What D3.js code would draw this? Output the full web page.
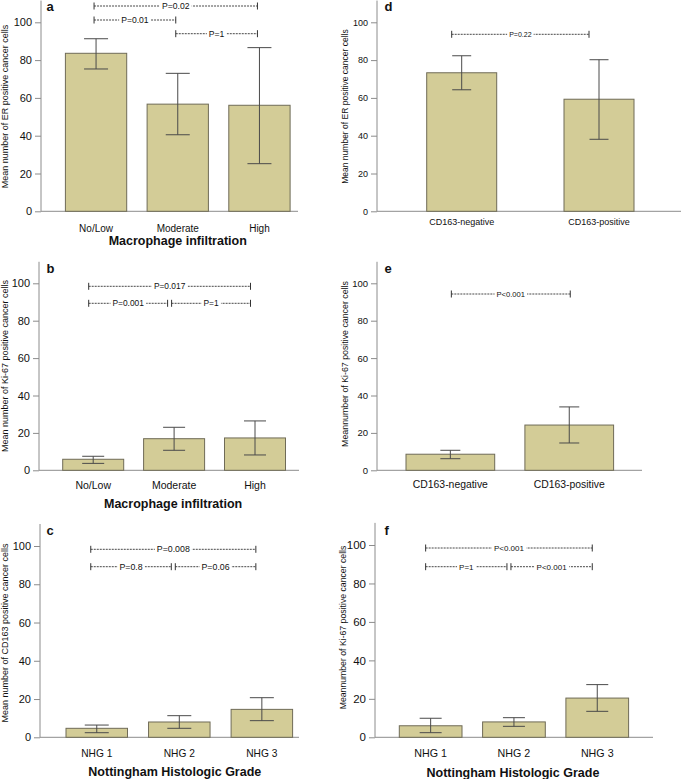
<!DOCTYPE html>
<html><head><meta charset="utf-8">
<script src="https://cdn.jsdelivr.net/npm/d3@7"></script>
<style>html,body{margin:0;padding:0;background:#fff;}svg{display:block;}</style>
</head><body>
<svg id="chart" width="684" height="779"></svg>
<script>
// ---------- DATA ----------
const yTicks = [0, 20, 40, 60, 80, 100];
const macroCats = ["No/Low", "Moderate", "High"];
const cd163Cats = ["CD163-negative", "CD163-positive"];
const nhgCats = ["NHG 1", "NHG 2", "NHG 3"];

// a: ER by macrophage infiltration
const erMacroMean = [83.6, 56.7, 56.1];
const erMacroLow  = [75.3, 40.5, 25.2];
const erMacroHigh = [91.3, 73.0, 86.6];
// b: Ki-67 by macrophage infiltration
const kiMacroMean = [5.9, 16.9, 17.3];
const kiMacroLow  = [3.7, 10.7, 8.2];
const kiMacroHigh = [7.5, 23.0, 26.4];
// c: CD163 by NHG
const cdNhgMean = [4.7, 8.0, 14.6];
const cdNhgLow  = [2.4, 4.7, 8.7];
const cdNhgHigh = [6.4, 11.3, 20.7];
// d: ER by CD163
const erCdMean = [73.3, 59.3];
const erCdLow  = [64.3, 38.1];
const erCdHigh = [82.3, 80.2];
// e: Ki-67 by CD163
const kiCdMean = [8.6, 24.2];
const kiCdLow  = [6.2, 14.6];
const kiCdHigh = [10.7, 33.9];
// f: Ki-67 by NHG
const kiNhgMean = [6.0, 8.0, 20.4];
const kiNhgLow  = [2.4, 5.7, 13.5];
const kiNhgHigh = [9.9, 10.2, 27.4];

// significance brackets (row = index of bracket row, top first)
const bracketsA = [
  {from: "No/Low", to: "High", label: "P=0.02", row: 0},
  {from: "No/Low", to: "Moderate", label: "P=0.01", row: 1},
  {from: "Moderate", to: "High", label: "P=1", row: 2}
];
const bracketsB = [
  {from: "No/Low", to: "High", label: "P=0.017", row: 0},
  {from: "No/Low", to: "Moderate", label: "P=0.001", row: 1},
  {from: "Moderate", to: "High", label: "P=1", row: 1}
];
const bracketsC = [
  {from: "NHG 1", to: "NHG 3", label: "P=0.008", row: 0},
  {from: "NHG 1", to: "NHG 2", label: "P=0.8", row: 1},
  {from: "NHG 2", to: "NHG 3", label: "P=0.06", row: 1}
];
const bracketsD = [{from: "CD163-negative", to: "CD163-positive", label: "P=0.22", row: 0}];
const bracketsE = [{from: "CD163-negative", to: "CD163-positive", label: "P<0.001", row: 0}];
const bracketsF = [
  {from: "NHG 1", to: "NHG 3", label: "P<0.001", row: 0},
  {from: "NHG 1", to: "NHG 2", label: "P=1", row: 1},
  {from: "NHG 2", to: "NHG 3", label: "P<0.001", row: 1}
];

const panelLetters = ["a", "b", "c", "d", "e", "f"];
const yTitles = [
  "Mean number of ER positive cancer cells",
  "Mean number of Ki-67 positive cancer cells",
  "Mean number of CD163 positive cancer cells",
  "Mean number of ER positive cancer cells",
  "Meannumber of Ki-67 positive cancer cells",
  "Meannumber of Ki-67 positive cancer cells"
];
const xTitles = ["Macrophage infiltration", "Macrophage infiltration", "Nottingham Histologic Grade", null, null, "Nottingham Histologic Grade"];

// ---------- LAYOUT ----------
const FONT = "'Liberation Sans', Arial, Helvetica, sans-serif";
const panels = [
  {cats: macroCats, mean: erMacroMean, low: erMacroLow, high: erMacroHigh, br: bracketsA,
   axisX: 41, y0: 211.3, y100: 22.3, barLeft: 65.4, barW: 61.3, step: 81.7, xEnd: 298,
   rows: [6, 20, 33.7], brShift: -2, brFont: 8.6, tickFont: 11, catFont: 10, catY: 231.5,
   cap: 12, letterX: 46.5, letterY: 11, yTitleX: 5, yTitleY: 106.5, yTitleFont: 9, titleY: 245, titleDx: 0},
  {cats: macroCats, mean: kiMacroMean, low: kiMacroLow, high: kiMacroHigh, br: bracketsB,
   axisX: 39, y0: 470.3, y100: 283.3, barLeft: 62.7, barW: 61, step: 80.9, xEnd: 299,
   rows: [286.3, 303.3], brShift: -4.5, brFont: 8.4, tickFont: 11, catFont: 10.5, catY: 488.5,
   cap: 11, letterX: 46.5, letterY: 272.5, yTitleX: 5, yTitleY: 366, yTitleFont: 9, titleY: 508, titleDx: -1},
  {cats: nhgCats, mean: cdNhgMean, low: cdNhgLow, high: cdNhgHigh, br: bracketsC,
   axisX: 40, y0: 737.3, y100: 546, barLeft: 66, barW: 61.5, step: 82.55, xEnd: 299,
   rows: [549.3, 566.7], brShift: -6, brFont: 8.8, tickFont: 11, catFont: 10.2, catY: 757,
   cap: 12, letterX: 46.5, letterY: 535, yTitleX: 5, yTitleY: 633, yTitleFont: 9, titleY: 776, titleDx: -4.5},
  {cats: cd163Cats, mean: erCdMean, low: erCdLow, high: erCdHigh, br: bracketsD,
   axisX: 377, y0: 211.3, y100: 22.3, barLeft: 426.7, barW: 70, step: 137.3, xEnd: 681,
   rows: [34.3], brShift: -10, brFont: 7, tickFont: 9, catFont: 9, catY: 224.5,
   cap: 9.5, letterX: 384.5, letterY: 11, yTitleX: 345.5, yTitleY: 106.5, yTitleFont: 8.5, titleY: null, titleDx: 0},
  {cats: cd163Cats, mean: kiCdMean, low: kiCdLow, high: kiCdHigh, br: bracketsE,
   axisX: 377, y0: 470.3, y100: 283.3, barLeft: 406, barW: 88.7, step: 118.9, xEnd: 642,
   rows: [294], brShift: 1, brFont: 7.6, tickFont: 9.5, catFont: 10.4, catY: 487.7,
   cap: 10, letterX: 384.5, letterY: 272.5, yTitleX: 345, yTitleY: 364, yTitleFont: 8.8, titleY: null, titleDx: 0},
  {cats: nhgCats, mean: kiNhgMean, low: kiNhgLow, high: kiNhgHigh, br: bracketsF,
   axisX: 375, y0: 737.3, y100: 545, barLeft: 399.3, barW: 62.7, step: 83.3, xEnd: 653,
   rows: [548, 566.7], brShift: -5, brFont: 8, tickFont: 11.5, catFont: 10.7, catY: 757,
   cap: 11, letterX: 384.5, letterY: 535, yTitleX: 342.5, yTitleY: 627.5, yTitleFont: 8.7, titleY: 776.5, titleDx: -1}
];

const BAR_FILL = "#d3cc97";
const BAR_STROKE = "#6f6b57";
const AXIS = "#8c8c8c";
const ERR = "#4a4a4a";

const svg = d3.select("#chart");

panels.forEach((p, i) => {
  const g = svg.append("g");
  const n = p.cats.length;
  const pad = 1 - p.barW / p.step;
  const start = p.barLeft - p.step * pad / 2;
  const x = d3.scaleBand().domain(p.cats).range([start, start + n * p.step])
    .paddingInner(pad).paddingOuter(pad / 2);
  const y = d3.scaleLinear().domain([0, 100]).range([p.y0, p.y100]);

  // y axis
  const yAxis = d3.axisLeft(y).tickValues(yTicks).tickSize(6).tickPadding(3).tickSizeOuter(0);
  const ya = g.append("g").attr("transform", `translate(${p.axisX},0)`).call(yAxis);
  ya.select(".domain").remove();
  ya.selectAll(".tick line").attr("stroke", AXIS);
  ya.selectAll(".tick text").attr("font-family", FONT).attr("font-size", p.tickFont).attr("fill", "#111");
  g.append("line").attr("x1", p.axisX).attr("x2", p.axisX)
    .attr("y1", y(0)).attr("y2", y(111.5)).attr("stroke", AXIS);

  // x axis line
  g.append("line").attr("x1", p.axisX).attr("x2", p.xEnd)
    .attr("y1", y(0)).attr("y2", y(0)).attr("stroke", AXIS);

  // bars
  const rows = p.cats.map((c, k) => ({cat: c, mean: p.mean[k], low: p.low[k], high: p.high[k]}));
  g.selectAll("rect.bar").data(rows).enter().append("rect")
    .attr("x", d => x(d.cat)).attr("width", x.bandwidth())
    .attr("y", d => y(d.mean)).attr("height", d => y(0) - y(d.mean))
    .attr("fill", BAR_FILL).attr("stroke", BAR_STROKE).attr("stroke-width", 1);

  // error bars
  const cx = d => x(d.cat) + x.bandwidth() / 2;
  const eb = g.selectAll("g.err").data(rows).enter().append("g");
  eb.append("line").attr("x1", cx).attr("x2", cx).attr("y1", d => y(d.low)).attr("y2", d => y(d.high))
    .attr("stroke", ERR).attr("stroke-width", 1);
  eb.append("line").attr("x1", d => cx(d) - p.cap).attr("x2", d => cx(d) + p.cap)
    .attr("y1", d => y(d.high)).attr("y2", d => y(d.high)).attr("stroke", ERR);
  eb.append("line").attr("x1", d => cx(d) - p.cap).attr("x2", d => cx(d) + p.cap)
    .attr("y1", d => y(d.low)).attr("y2", d => y(d.low)).attr("stroke", ERR);

  // category labels
  g.selectAll("text.cat").data(p.cats).enter().append("text")
    .attr("x", c => x(c) + x.bandwidth() / 2).attr("y", p.catY)
    .attr("text-anchor", "middle").attr("font-family", FONT).attr("font-size", p.catFont)
    .attr("fill", "#111").text(c => c);

  // x title
  if (xTitles[i]) {
    const mid = p.cats[Math.floor(n / 2)];
    g.append("text").attr("x", x(mid) + x.bandwidth() / 2 + p.titleDx).attr("y", p.titleY)
      .attr("text-anchor", "middle").attr("font-family", FONT).attr("font-weight", "bold")
      .attr("font-size", 12.5).attr("fill", "#111").text(xTitles[i]);
  }

  // y title
  g.append("text").attr("transform", `translate(${p.yTitleX},${p.yTitleY}) rotate(-90)`)
    .attr("text-anchor", "middle").attr("dy", "0.35em").attr("font-family", FONT)
    .attr("font-size", p.yTitleFont).attr("fill", "#111").text(yTitles[i]);

  // panel letter
  g.append("text").attr("x", p.letterX).attr("y", p.letterY).attr("font-family", FONT)
    .attr("font-weight", "bold").attr("font-size", 13).attr("fill", "#111").text(panelLetters[i]);

  // brackets
  p.br.forEach(b => {
    const sameRow = p.br.filter(o => o.row === b.row);
    let x1 = x(b.from) + x.bandwidth() / 2 + p.brShift;
    let x2 = x(b.to) + x.bandwidth() / 2 + p.brShift;
    if (sameRow.length > 1) {
      if (sameRow.some(o => o !== b && o.from === b.to)) x2 -= 2;
      if (sameRow.some(o => o !== b && o.to === b.from)) x1 += 2;
    }
    const by = p.rows[b.row];
    const bg = g.append("g");
    bg.append("line").attr("x1", x1).attr("x2", x2).attr("y1", by).attr("y2", by)
      .attr("stroke", "#333").attr("stroke-width", 0.9).attr("stroke-dasharray", "2,1");
    [x1, x2].forEach(xx => bg.append("line").attr("x1", xx).attr("x2", xx)
      .attr("y1", by - 3.5).attr("y2", by + 3.5).attr("stroke", "#333").attr("stroke-width", 1));
    const t = bg.append("text").attr("x", (x1 + x2) / 2).attr("y", by).attr("dy", "0.35em")
      .attr("text-anchor", "middle").attr("font-family", FONT).attr("font-size", p.brFont)
      .attr("fill", "#111").text(b.label);
    const bb = t.node().getBBox();
    bg.insert("rect", "text").attr("x", bb.x - 2).attr("y", by - 2).attr("width", bb.width + 4)
      .attr("height", 4).attr("fill", "#fff");
  });
});
</script>
</body></html>
